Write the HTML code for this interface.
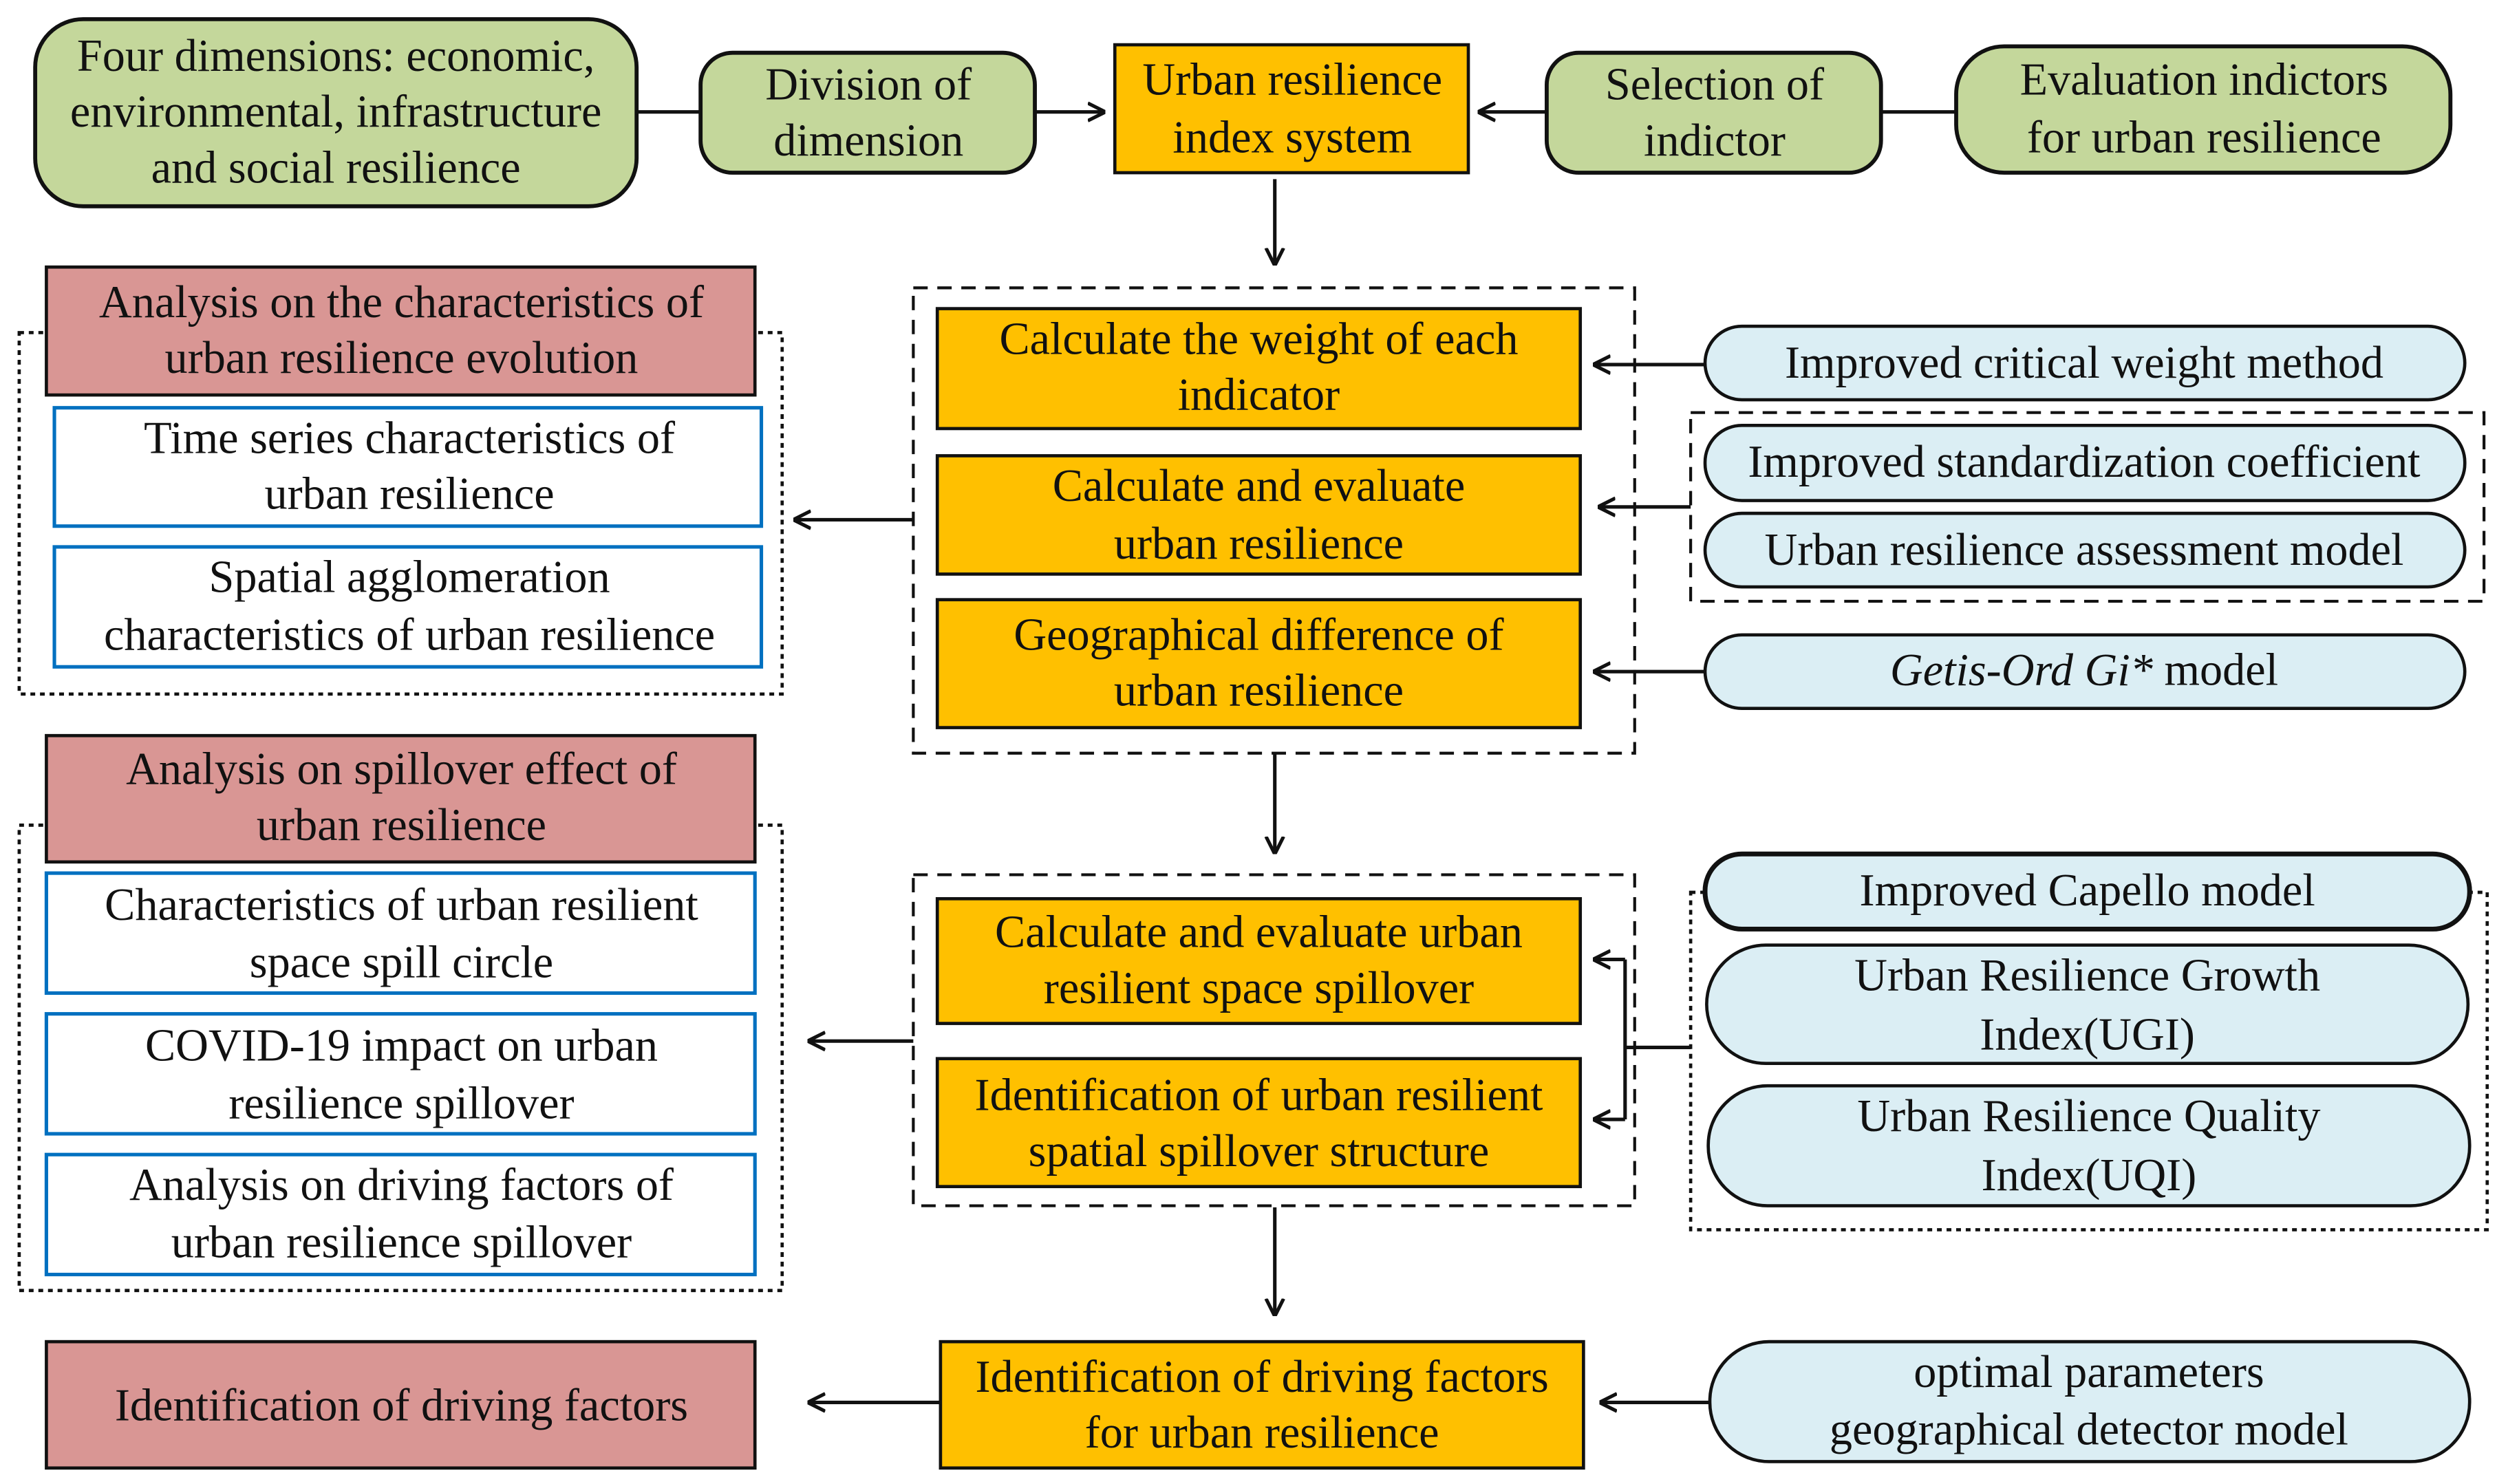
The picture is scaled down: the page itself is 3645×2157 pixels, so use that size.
<!DOCTYPE html>
<html><head><meta charset="utf-8"><style>
html,body{margin:0;padding:0;background:#fff}
svg{display:block}
text{font-family:"Liberation Serif",serif;font-size:28.5px;fill:#111;text-anchor:middle;dominant-baseline:central}
.g{fill:#c4d79b;stroke:#111;stroke-width:2.5}
.o{fill:#ffc000;stroke:#111;stroke-width:2}
.r{fill:#d99694;stroke:#111;stroke-width:2}
.b{fill:#fff;stroke:#0070c0;stroke-width:2.2}
.p{fill:#dbeef4;stroke:#111;stroke-width:2}
.d{fill:none;stroke:#111;stroke-width:1.8;stroke-dasharray:9,6}
.dt{fill:none;stroke:#111;stroke-width:2;stroke-dasharray:3,3}
.l{stroke:#111;stroke-width:2.2;fill:none}
</style></head><body>
<svg width="3645" height="2157" viewBox="0 0 1568 928" preserveAspectRatio="none">
<defs><marker id="a" viewBox="0 0 10 10" refX="9" refY="5" markerWidth="11" markerHeight="13" markerUnits="userSpaceOnUse" orient="auto"><path d="M0,0 L10,5 L0,10" fill="none" stroke="#111" stroke-width="2"/></marker></defs>
<rect class="g" x="22" y="12" width="376" height="117" rx="30"/>
<text x="210" y="35">Four dimensions: economic,</text><text x="210" y="70">environmental, infrastructure</text><text x="210" y="105">and social resilience</text>
<rect class="g" x="438" y="33" width="209" height="75" rx="20"/>
<text x="543" y="53">Division of</text><text x="543" y="88">dimension</text>
<rect class="o" x="697" y="28" width="221" height="80"/>
<text x="808" y="50">Urban resilience</text><text x="808" y="86">index system</text>
<rect class="g" x="967" y="33" width="209" height="75" rx="20"/>
<text x="1072" y="53">Selection of</text><text x="1072" y="88">indictor</text>
<rect class="g" x="1223" y="29" width="309" height="79" rx="30"/>
<text x="1378" y="50">Evaluation indictors</text><text x="1378" y="86">for urban resilience</text>
<line class="l" x1="398" y1="70" x2="438" y2="70"/>
<line class="l" x1="647" y1="70" x2="690" y2="70" marker-end="url(#a)"/>
<line class="l" x1="967" y1="70" x2="925" y2="70" marker-end="url(#a)"/>
<line class="l" x1="1176" y1="70" x2="1223" y2="70"/>
<line class="l" x1="797" y1="112" x2="797" y2="165" marker-end="url(#a)"/>
<rect class="d" x="571" y="180" width="451" height="291"/>
<rect class="o" x="586" y="193" width="402" height="75"/>
<text x="787" y="212">Calculate the weight of each</text><text x="787" y="247">indicator</text>
<rect class="o" x="586" y="285" width="402" height="74"/>
<text x="787" y="304">Calculate and evaluate</text><text x="787" y="340">urban resilience</text>
<rect class="o" x="586" y="375" width="402" height="80"/>
<text x="787" y="397">Geographical difference of</text><text x="787" y="432">urban resilience</text>
<line class="l" x1="571" y1="325" x2="497" y2="325" marker-end="url(#a)"/>
<rect class="dt" x="12" y="208" width="477" height="226"/>
<rect class="r" x="29" y="167" width="443" height="80"/>
<text x="251" y="189">Analysis on the characteristics of</text><text x="251" y="224">urban resilience evolution</text>
<rect class="b" x="34" y="255" width="442" height="74"/>
<text x="256" y="274">Time series characteristics of</text><text x="256" y="309">urban resilience</text>
<rect class="b" x="34" y="342" width="442" height="75"/>
<text x="256" y="361">Spatial agglomeration</text><text x="256" y="397">characteristics of urban resilience</text>
<rect class="p" x="1066" y="204" width="475" height="46" rx="23"/>
<text x="1303" y="227">Improved critical weight method</text>
<line class="l" x1="1066" y1="228" x2="997" y2="228" marker-end="url(#a)"/>
<rect class="d" x="1057" y="258" width="496" height="118"/>
<rect class="p" x="1066" y="266" width="475" height="47" rx="23"/>
<text x="1303" y="289">Improved standardization coefficient</text>
<rect class="p" x="1066" y="321" width="475" height="46" rx="23"/>
<text x="1303" y="344">Urban resilience assessment model</text>
<line class="l" x1="1057" y1="317" x2="1000" y2="317" marker-end="url(#a)"/>
<rect class="p" x="1066" y="397" width="475" height="46" rx="23"/>
<text x="1303" y="419"><tspan font-style="italic">Getis-Ord Gi*</tspan>  model</text>
<line class="l" x1="1066" y1="420" x2="997" y2="420" marker-end="url(#a)"/>
<line class="l" x1="797" y1="471" x2="797" y2="533" marker-end="url(#a)"/>
<rect class="d" x="571" y="547" width="451" height="207"/>
<rect class="o" x="586" y="562" width="402" height="78"/>
<text x="787" y="583">Calculate and evaluate urban</text><text x="787" y="618">resilient space spillover</text>
<rect class="o" x="586" y="662" width="402" height="80"/>
<text x="787" y="685">Identification of urban resilient</text><text x="787" y="720">spatial spillover structure</text>
<line class="l" x1="1057" y1="655" x2="1016" y2="655"/>
<line class="l" x1="1016" y1="600" x2="1016" y2="700"/>
<line class="l" x1="1016" y1="600" x2="997" y2="600" marker-end="url(#a)"/>
<line class="l" x1="1016" y1="700" x2="997" y2="700" marker-end="url(#a)"/>
<line class="l" x1="571" y1="651" x2="506" y2="651" marker-end="url(#a)"/>
<rect class="dt" x="1057" y="558" width="498" height="211"/>
<rect class="p" x="1066" y="534" width="478" height="47" rx="23" style="stroke-width:3"/>
<text x="1305" y="557">Improved Capello model</text>
<rect class="p" x="1067" y="591" width="476" height="74" rx="37"/>
<text x="1305" y="610">Urban Resilience Growth</text><text x="1305" y="647">Index(UGI)</text>
<rect class="p" x="1068" y="679" width="476" height="75" rx="37"/>
<text x="1306" y="698">Urban Resilience Quality</text><text x="1306" y="735">Index(UQI)</text>
<rect class="dt" x="12" y="516" width="477" height="291"/>
<rect class="r" x="29" y="460" width="443" height="79"/>
<text x="251" y="481">Analysis on spillover effect of</text><text x="251" y="516">urban resilience</text>
<rect class="b" x="29" y="546" width="443" height="75"/>
<text x="251" y="566">Characteristics of urban resilient</text><text x="251" y="602">space spill circle</text>
<rect class="b" x="29" y="634" width="443" height="75"/>
<text x="251" y="654">COVID-19 impact on urban</text><text x="251" y="690">resilience spillover</text>
<rect class="b" x="29" y="722" width="443" height="75"/>
<text x="251" y="741">Analysis on driving factors of</text><text x="251" y="777">urban resilience spillover</text>
<line class="l" x1="797" y1="755" x2="797" y2="822" marker-end="url(#a)"/>
<rect class="r" x="29" y="839" width="443" height="79"/>
<text x="251" y="879">Identification of driving factors</text>
<rect class="o" x="588" y="839" width="402" height="79"/>
<text x="789" y="861">Identification of driving factors</text><text x="789" y="896">for urban resilience</text>
<line class="l" x1="588" y1="877" x2="506" y2="877" marker-end="url(#a)"/>
<rect class="p" x="1069" y="839" width="475" height="75" rx="37"/>
<text x="1306" y="858">optimal parameters</text><text x="1306" y="894">geographical detector model</text>
<line class="l" x1="1069" y1="877" x2="1001" y2="877" marker-end="url(#a)"/>
</svg>
</body></html>
